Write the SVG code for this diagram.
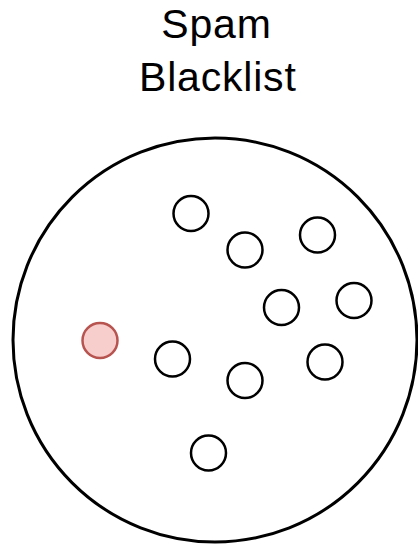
<svg xmlns="http://www.w3.org/2000/svg" width="418" height="545" viewBox="0 0 418 545">
<style>
.t{font-family:"Liberation Sans",Arial,Helvetica,sans-serif;font-size:41px;letter-spacing:0.8px;fill:#000;text-anchor:middle}
.c{fill:#fff;stroke:#000;stroke-width:2.5}
.r{fill:#f8cecc;stroke:#b85450;stroke-width:2.5}
</style>
<g id="label"><text class="t" x="216.5" y="37.5">Spam</text><text class="t" x="217.8" y="91">Blacklist</text></g>
<g id="blacklist"><circle class="c" cx="215" cy="340" r="202" style="stroke-width:3"/></g>
<g id="n1"><circle class="c" cx="191" cy="213.5" r="17.5"/></g>
<g id="n2"><circle class="c" cx="245" cy="250" r="17.5"/></g>
<g id="n3"><circle class="c" cx="317.5" cy="235" r="17.5"/></g>
<g id="n4"><circle class="c" cx="281.5" cy="307.5" r="17.5"/></g>
<g id="n5"><circle class="c" cx="354" cy="300.5" r="17.5"/></g>
<g id="spam"><circle class="r" cx="100" cy="340.5" r="17.5"/></g>
<g id="n6"><circle class="c" cx="172.5" cy="359" r="17.5"/></g>
<g id="n7"><circle class="c" cx="245" cy="380.5" r="17.5"/></g>
<g id="n8"><circle class="c" cx="325" cy="362" r="17.5"/></g>
<g id="n9"><circle class="c" cx="208.5" cy="453" r="17.5"/></g>
<g id="connectors"/>
</svg>
